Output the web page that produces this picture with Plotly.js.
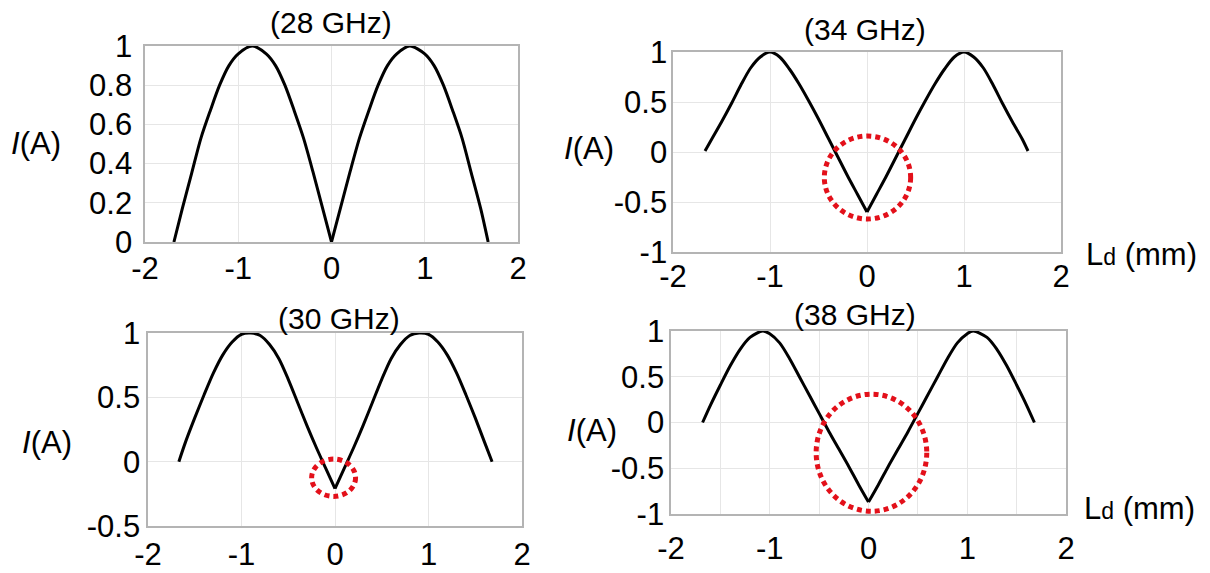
<!DOCTYPE html>
<html>
<head>
<meta charset="utf-8">
<script src="https://cdn.plot.ly/plotly-3.0.1.min.js"></script>
<style>
  html, body { margin: 0; padding: 0; background: #fff; }
  #chart { width: 1210px; height: 573px; }
</style>
</head>
<body>
<div id="chart"></div>
<script>
// ---------------- data ----------------
const panelTitles = ['(28 GHz)', '(34 GHz)', '(30 GHz)', '(38 GHz)'];

// 28 GHz (top-left)
const x28 = [-1.69,-1.6,-1.5,-1.4,-1.3,-1.2,-1.1,-1.0,-0.85,-0.7,-0.6,-0.5,-0.4,-0.3,-0.2,-0.1,0,
             0.1,0.2,0.3,0.4,0.5,0.6,0.7,0.84,1.0,1.1,1.2,1.3,1.4,1.5,1.6,1.68];
const i28 = [0,0.17,0.35,0.53,0.67,0.80,0.90,0.96,1.0,0.96,0.90,0.80,0.67,0.53,0.36,0.18,0,
             0.18,0.36,0.53,0.67,0.80,0.90,0.96,1.0,0.96,0.90,0.80,0.67,0.53,0.35,0.17,0];

// 34 GHz (top-right)
const x34 = [-1.67,-1.6,-1.5,-1.4,-1.3,-1.2,-1.1,-1.0,-0.9,-0.8,-0.7,-0.6,-0.5,-0.4,-0.3,-0.2,-0.1,0,
             0.1,0.2,0.3,0.4,0.5,0.6,0.7,0.8,0.9,1.0,1.1,1.2,1.3,1.4,1.5,1.6,1.66];
const i34 = [0.01,0.13,0.30,0.48,0.67,0.84,0.95,1.0,0.95,0.83,0.68,0.51,0.33,0.14,-0.05,-0.24,-0.42,-0.60,
             -0.42,-0.24,-0.05,0.14,0.33,0.51,0.68,0.83,0.95,1.0,0.95,0.84,0.67,0.48,0.30,0.13,0.01];

// 30 GHz (bottom-left)
const x30 = [-1.67,-1.6,-1.5,-1.4,-1.3,-1.2,-1.1,-1.0,-0.9,-0.8,-0.7,-0.6,-0.5,-0.4,-0.3,-0.2,-0.1,0,
             0.1,0.2,0.3,0.4,0.5,0.6,0.7,0.8,0.9,1.0,1.1,1.2,1.3,1.4,1.5,1.6,1.68];
const i30 = [0,0.15,0.34,0.52,0.69,0.83,0.93,0.99,1.0,0.98,0.91,0.80,0.64,0.46,0.28,0.11,-0.05,-0.21,
             -0.05,0.11,0.28,0.46,0.64,0.80,0.91,0.98,1.0,0.99,0.93,0.83,0.69,0.52,0.34,0.15,0];

// 38 GHz (bottom-right)
const x38 = [-1.68,-1.6,-1.5,-1.4,-1.3,-1.2,-1.07,-1.0,-0.9,-0.8,-0.7,-0.6,-0.5,-0.4,-0.3,-0.2,-0.1,0,
             0.1,0.2,0.3,0.4,0.5,0.6,0.7,0.8,0.9,1.0,1.06,1.2,1.3,1.4,1.5,1.6,1.68];
const i38 = [0,0.19,0.41,0.62,0.80,0.93,1.0,0.97,0.87,0.70,0.50,0.30,0.10,-0.10,-0.29,-0.48,-0.68,-0.87,
             -0.68,-0.48,-0.29,-0.10,0.10,0.30,0.50,0.70,0.87,0.97,1.0,0.93,0.80,0.62,0.41,0.19,0];

// highlight circles (data coords: x0, x1, y0, y1) per panel
const circle34 = [-0.44, 0.45, -0.67, 0.16];
const circle30 = [-0.25, 0.22, -0.27, 0.02];
const circle38 = [-0.53, 0.59, -0.97, 0.31];

// tick labels
const xTickVals = [-2, -1, 0, 1, 2];
const xTickText = ['-2', '-1', '0', '1', '2'];
const yTickVals28 = [0, 0.2, 0.4, 0.6, 0.8, 1];
const yTickText28 = ['0', '0.2', '0.4', '0.6', '0.8', '1'];
const yTickVals34 = [-1, -0.5, 0, 0.5, 1];
const yTickText34 = ['-1', '-0.5', '0', '0.5', '1'];
const yTickVals30 = [-0.5, 0, 0.5, 1];
const yTickText30 = ['-0.5', '0', '0.5', '1'];
const yLabel = '<i>I</i>(A)';
const xLabel = "L<span style='font-size:23px'>d</span> (mm)";

// ---------------- layout helpers ----------------
const W = 1210, H = 573;
const px = v => v / W;
const py = v => 1 - v / H;
const FONT = 'Liberation Sans, Arial, sans-serif';
const FS = 31;

function xAx(dom, anchor, standoff, extra) {
  return Object.assign({
    domain: [px(dom[0]), px(dom[1])], anchor: anchor, range: [-2, 2],
    tickvals: xTickVals, ticktext: xTickText,
    showgrid: true, gridcolor: '#e6e6e6', gridwidth: 1,
    showline: true, mirror: true, linecolor: '#b4b4b4', linewidth: 1.6,
    zeroline: false, ticks: '', ticklabelstandoff: standoff,
    tickfont: {family: FONT, size: FS, color: '#000'}, fixedrange: true
  }, extra || {});
}
function yAx(dom, anchor, range, vals, text, standoff) {
  return {
    domain: [py(dom[1]), py(dom[0])], anchor: anchor, range: range,
    tickvals: vals, ticktext: text,
    showgrid: true, gridcolor: '#e6e6e6', gridwidth: 1,
    showline: true, mirror: true, linecolor: '#b4b4b4', linewidth: 1.6,
    zeroline: false, ticks: '', ticklabelstandoff: standoff,
    tickfont: {family: FONT, size: FS, color: '#000'}, fixedrange: true
  };
}

// each curve drawn as two smooth halves meeting at the cusp (x = 0)
const lineStyle = {color: '#000', width: 3, shape: 'spline', smoothing: 0.8};
const series = [
  [x28, i28, 'x', 'y'],
  [x34, i34, 'x2', 'y2'],
  [x30, i30, 'x3', 'y3'],
  [x38, i38, 'x4', 'y4']
];
const traces = [];
series.forEach(([xs, ys, xa, ya]) => {
  const d = xs.indexOf(0);
  traces.push({x: xs.slice(0, d + 1), y: ys.slice(0, d + 1), xaxis: xa, yaxis: ya,
               mode: 'lines', line: lineStyle, hoverinfo: 'skip'});
  traces.push({x: xs.slice(d), y: ys.slice(d), xaxis: xa, yaxis: ya,
               mode: 'lines', line: lineStyle, hoverinfo: 'skip'});
});

function circ(c, xr, yr) {
  return {type: 'circle', xref: xr, yref: yr, x0: c[0], x1: c[1], y0: c[2], y1: c[3],
          line: {color: '#e3101a', width: 5, dash: '5px,4px'}, layer: 'above'};
}

function ann(text, x, y, xa, size) {
  return {text: text, x: px(x), y: py(y), xref: 'paper', yref: 'paper',
          xanchor: xa || 'center', yanchor: 'middle', showarrow: false,
          font: {family: FONT, size: size || FS, color: '#000'}};
}

const layout = {
  width: W, height: H,
  margin: {l: 0, r: 0, t: 0, b: 0},
  paper_bgcolor: '#fff', plot_bgcolor: '#fff',
  showlegend: false,
  xaxis:  xAx([145, 518], 'y', -2),
  yaxis:  yAx([46, 242], 'x', [0, 1], yTickVals28, yTickText28, 5),
  xaxis2: xAx([673, 1061], 'y2', -4),
  yaxis2: yAx([52, 252], 'x2', [-1, 1], yTickVals34, yTickText34, -2),
  xaxis3: xAx([148, 522], 'y3', 0),
  yaxis3: yAx([333, 526], 'x3', [-0.5, 1], yTickVals30, yTickText30, 0),
  xaxis4: xAx([671, 1066], 'y4', 6, {minor: {dtick: 0.5, showgrid: true, gridcolor: '#e6e6e6'}}),
  yaxis4: yAx([331, 514], 'x4', [-1, 1], yTickVals34, yTickText34, -1),
  shapes: [
    circ(circle34, 'x2', 'y2'),
    circ(circle30, 'x3', 'y3'),
    circ(circle38, 'x4', 'y4')
  ],
  annotations: [
    ann(panelTitles[0], 331, 23, 'center', 30),
    ann(panelTitles[1], 865, 30, 'center', 30),
    ann(panelTitles[2], 339, 318, 'center', 30),
    ann(panelTitles[3], 855, 314, 'center', 30),
    ann(yLabel, 36, 143),
    ann(yLabel, 589, 148),
    ann(yLabel, 47, 442),
    ann(yLabel, 592, 430),
    ann(xLabel, 1084, 255, 'left'),
    ann(xLabel, 1082, 508, 'left')
  ]
};

Plotly.newPlot('chart', traces, layout, {displayModeBar: false, staticPlot: true});
</script>
</body>
</html>
